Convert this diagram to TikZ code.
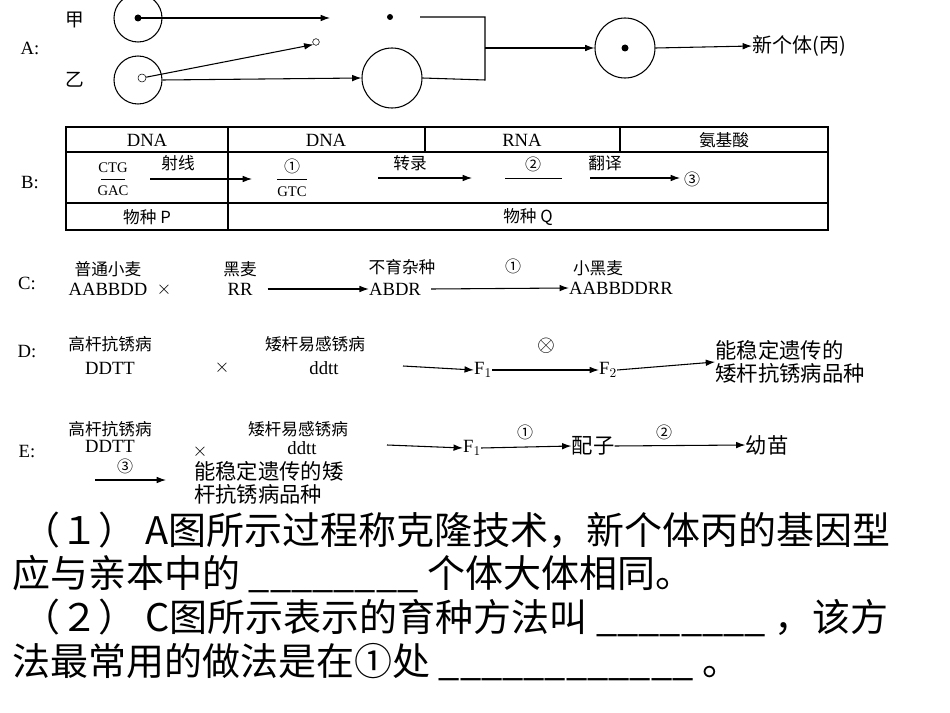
\documentclass[tikz,border=0pt]{standalone}
\usepackage{fontspec}
\setmainfont{Liberation Serif}
\newfontfamily\cjk{Noto Sans CJK SC}
\usetikzlibrary{arrows.meta}
\begin{document}
\begin{tikzpicture}[x=0.75pt,y=-0.75pt,
  lbl/.style={font=\cjk\fontsize{12.5}{14}\selectfont,inner sep=0pt},
  lat/.style={font=\fontsize{14}{15}\selectfont,inner sep=0pt},
  num/.style={font=\cjk\fontsize{12}{13}\selectfont,inner sep=0pt},
  arr/.style={draw,line width=0.8pt,-{Latex[length=7pt,width=5pt]}},
  cell/.style={draw,thick,circle,minimum size=48pt,inner sep=0pt},
  big/.style={font=\cjk\fontsize{28.5}{32}\selectfont,anchor=west,inner sep=0pt}]
\useasboundingbox (0,0) rectangle (950,713);
% A
\node[lat] (la) at (30,48) {A:};
\node[lbl,font=\cjk\fontsize{14}{15}\selectfont] (jia) at (75,20) {甲};
\node[lbl,font=\cjk\fontsize{14}{15}\selectfont] (yi) at (75,80) {乙};
\node[cell,minimum size=36pt] (cj) at (138,18) {};
\fill (cj.center) circle (3.5);
\node[cell,minimum size=36pt] (cy) at (138,80) {};
\node[draw,circle,minimum size=6pt,inner sep=0pt] (ny) at (142,78) {};
\coordinate (c1e) at (330,18);
\draw[arr] (cj.center) -- (c1e);
\fill (390,17) circle (3);
\node[draw,circle,minimum size=5pt,inner sep=0pt] (sn) at (316,42) {};
\draw[arr] (ny) -- (sn.south west);
\node[cell,minimum size=45pt] (emp) at (392,78) {};
\draw[arr] (cy.east) -- (emp.west);
\coordinate (b1) at (485,17); \coordinate (b2) at (485,80); \coordinate (bm) at (485,48);
\draw[thick] (420,17) -- (b1) -- (b2) -- (emp.east);
\node[cell,minimum size=45pt] (nc) at (625,48) {};
\fill (nc.center) circle (3.5);
\draw[arr] (bm) -- (nc.west);
\node[lbl,anchor=west,font=\cjk\fontsize{15}{16}\selectfont] (new) at (752,46) {新个体(丙)};
\draw[arr] (nc.east) -- (new.west);
% B
\draw[thick] (66,127) rectangle (828,230);
\draw[thick] (66,152) -- (828,152) (66,203) -- (828,203);
\draw[thick] (228,127) -- (228,230) (425,127) -- (425,152) (620,127) -- (620,152);
\node[lat] at (147,140) {DNA};
\node[lat] at (326,140) {DNA};
\node[lat] at (522,140) {RNA};
\node[lbl] at (724,140) {氨基酸};
\node[lbl] at (147,217) {物种 P};
\node[lbl] at (528,217) {物种 Q};
\node[lat] at (30,183) {B:};
\node[lat,font=\fontsize{11}{12}\selectfont] (ctg) at (113,168) {CTG};
\node[lat,font=\fontsize{11}{12}\selectfont] (gac) at (113,191) {GAC};
\draw (101,179) -- (125,179);
\node[lbl] at (178,163) {射线};
\coordinate (a1s) at (150,179); \coordinate (a1e) at (252,179);
\draw[arr] (a1s) -- (a1e);
\node[num] at (292,166) {①};
\draw (277,179) -- (307,179);
\node[lat,font=\fontsize{11}{12}\selectfont] at (292,192) {GTC};
\coordinate (a2s) at (378,178); \coordinate (a2e) at (472,178);
\draw[arr] (a2s) -- (a2e);
\node[lbl] at (410,163) {转录};
\node[num] at (533,164) {②};
\draw (505,178) -- (562,178);
\node[lbl] at (605,163) {翻译};
\coordinate (a3s) at (590,178); \coordinate (a3e) at (680,178);
\draw[arr] (a3s) -- (a3e);
\node[num] at (692,179) {③};
% C
\node[lat] at (27,283) {C:};
\node[lbl] at (108,269) {普通小麦};
\node[lat] at (108,289) {AABBDD};
\node[lat] at (164,290) {$\times$};
\node[lbl] at (240,269) {黑麦};
\node[lat] (rr) at (240,289) {RR};
\node[lbl] at (402,267) {不育杂种};
\node[lat] (abdr) at (395,289) {ABDR};
\draw[arr] (rr.east) ++(15,0) -- (abdr.west);
\node[num] at (513,266) {①};
\node[lbl] at (598,268) {小黑麦};
\node[lat] (aabb) at (621,288) {AABBDDRR};
\draw[arr] (abdr.east) ++(10,0) -- (aabb.west);
% D
\node[lat] at (27,352) {D:};
\node[lbl] at (110,344) {高杆抗锈病};
\node[lat] at (110,368) {DDTT};
\node[lat] at (222,368) {$\times$};
\node[lbl] at (315,344) {矮杆易感锈病};
\node[lat] at (324,368) {ddtt};
\node[lat] (f1d) at (483,370) {F$_1$};
\coordinate (dd) at (403,366);
\draw[arr] (dd) -- (f1d.west);
\node[lat,font=\fontsize{18}{18}\selectfont] at (546,346) {$\otimes$};
\node[lat] (f2d) at (608,370) {F$_2$};
\draw[arr] (f1d.east) -- (f2d.west);
\node[lbl,font=\cjk\fontsize{16}{17}\selectfont,align=left] (dres) at (790,362) {能稳定遗传的\\矮杆抗锈病品种};
\draw[arr] (f2d.east) -- (dres.west);
% E
\node[lat] at (27,452) {E:};
\node[lbl] at (110,429) {高杆抗锈病};
\node[lat] at (110,446) {DDTT};
\node[lat] at (200,452) {$\times$};
\node[lbl] at (298,429) {矮杆易感锈病};
\node[lat] at (302,448) {ddtt};
\node[lat] (f1e) at (472,448) {F$_1$};
\coordinate (ee) at (387,445);
\draw[arr] (ee) -- (f1e.west);
\node[num] at (525,432) {①};
\node[lbl,font=\cjk\fontsize{16}{17}\selectfont] (pz) at (593,446) {配子};
\draw[arr] (f1e.east) -- (pz.west);
\node[num] at (664,432) {②};
\node[lbl,font=\cjk\fontsize{16}{17}\selectfont] (ym) at (767,445) {幼苗};
\draw[arr] (pz.east) -- (ym.west);
\node[num] at (125,466) {③};
\node[lbl,font=\cjk\fontsize{16}{17}\selectfont,align=left,anchor=west] (eres) at (194,483) {能稳定遗传的矮\\杆抗锈病品种};
\coordinate (e3) at (95,480);
\draw[arr] (e3) -- (166,480);
% text
\node[big] at (14,530) {\ （１） A图所示过程称克隆技术，新个体丙的基因型};
\node[big] at (12,574) {应与亲本中的 \_\_\_\_\_\_\_\_ 个体大体相同。};
\node[big] at (14,618) {\ （２） C图所示表示的育种方法叫 \_\_\_\_\_\_\_\_ ，该方};
\node[big] at (12,662) {法最常用的做法是在①处 \_\_\_\_\_\_\_\_\_\_\_\_ 。};
\end{tikzpicture}
\end{document}
